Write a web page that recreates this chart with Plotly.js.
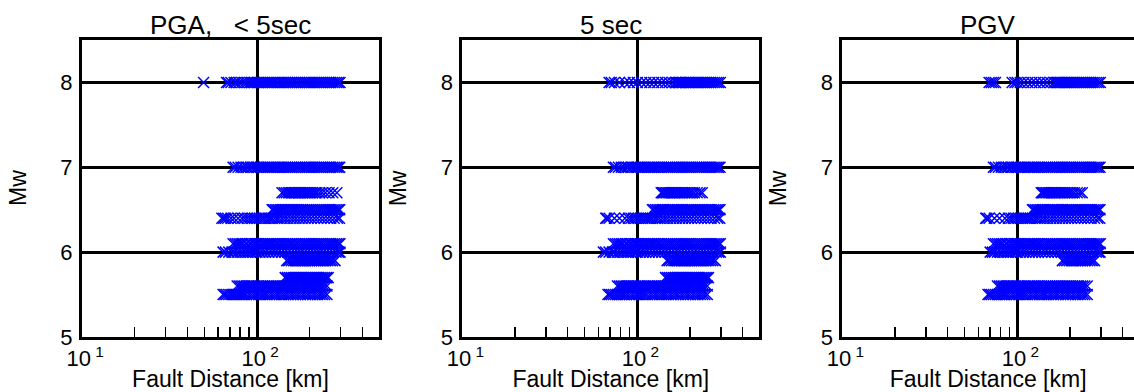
<!DOCTYPE html>
<html><head><meta charset="utf-8">
<script src="https://cdn.plot.ly/plotly-3.0.1.min.js"></script>
<style>html,body{margin:0;padding:0;overflow:hidden;background:#fff}</style>
</head><body><div id="chart"></div>
<script>
// ---- data: fault distance [km] per Mw row ----
const pgaM80 = [49.5, 67, 68.5, 71, 74, 76, 79, 82, 85, 88, 91, 93, 95, 97, 100, 102, 105, 108, 111, 114, 117, 120, 123, 126, 130, 133, 137, 141, 145, 149, 153, 157, 161, 166, 170, 175, 180, 185, 190, 195, 200, 206, 212, 218, 224, 230, 236, 243, 250, 257, 264, 271, 278, 285, 292, 298];
const s5M80 = [69, 71, 74, 79, 85, 90, 95, 100, 106, 112, 118, 124, 131, 138, 145, 152, 159, 165, 168, 171, 174, 177, 180, 184, 188, 192, 196, 200, 205, 210, 215, 220, 225, 231, 237, 243, 249, 256, 263, 270, 277, 284, 291, 298];
const pgvM80 = [69, 71, 73, 75, 93.5, 97, 100, 104, 109, 115, 121, 127, 134, 141, 148, 155, 162, 166, 169, 172, 175, 178, 182, 186, 190, 194, 198, 203, 208, 213, 218, 223, 229, 235, 241, 247, 254, 261, 268, 275, 283, 291, 298];
const row70 = [73, 75, 78, 81, 84, 87, 89, 92, 94, 97, 100, 102, 105, 108, 111, 114, 117, 120, 123, 126, 130, 133, 137, 141, 145, 149, 153, 157, 161, 166, 170, 175, 180, 185, 190, 195, 200, 206, 212, 218, 224, 230, 236, 243, 250, 257, 264, 271, 278, 285, 291, 297];
const pgaM67 = [139, 143, 147, 151, 154, 157, 160, 163, 166, 169, 172, 175, 178, 182, 186, 190, 194, 198, 203, 208, 214, 220, 228, 236, 246, 258, 271, 286];
const row67 = [137, 139, 141, 144, 147, 150, 153, 156, 160, 163, 166, 170, 174, 178, 182, 186, 190, 195, 200, 206, 212, 220, 228, 235];
const row65 = [122, 124, 127, 130, 133, 136, 139, 142, 145, 149, 153, 157, 161, 165, 169, 173, 178, 182, 187, 192, 197, 202, 207, 213, 219, 225, 231, 237, 244, 251, 258, 265, 272, 279, 286, 292, 297];
const pgaM64 = [63, 64.5, 66, 68, 71, 74, 78, 82, 85, 88, 91, 94, 97, 100, 103, 106, 109, 112, 116, 119, 122, 126, 130, 134, 139, 144, 149, 155, 161, 167, 174, 181, 188, 196, 204, 213, 222, 232, 242, 253, 264, 276, 288, 296];
const row64 = [66, 67, 69, 74, 79, 85, 89, 92, 95, 98, 101, 104, 107, 110, 113, 116, 119, 122, 126, 130, 134, 139, 144, 149, 155, 161, 167, 174, 181, 188, 196, 204, 213, 222, 232, 242, 253, 264, 276, 288, 296];
const row61 = [73, 75, 77, 79, 81, 83, 86, 88, 91, 93, 96, 98, 100, 102, 105, 108, 111, 114, 117, 120, 123, 126, 130, 133, 137, 141, 145, 149, 153, 157, 161, 166, 170, 175, 180, 185, 190, 195, 200, 206, 212, 218, 224, 230, 236, 243, 250, 257, 264, 271, 278, 285, 292, 298];
const row60 = [64, 66, 69, 72, 74, 77, 80, 83, 86, 89, 92, 95, 98, 100, 104, 108, 112, 117, 122, 127, 132, 138, 144, 150, 157, 164, 171, 178, 186, 194, 202, 211, 220, 229, 239, 249, 260, 271, 283, 292, 298];
const pgvM60 = [70, 72, 74, 77, 80, 83, 86, 89, 92, 95, 98, 100, 104, 108, 112, 117, 122, 127, 132, 138, 144, 150, 157, 164, 171, 178, 186, 194, 202, 211, 220, 229, 239, 249, 260, 271, 283, 292, 297];
const row59 = [148, 152, 157, 162, 166, 170, 174, 178, 182, 186, 190, 195, 200, 205, 210, 215, 221, 227, 233, 240, 247, 254, 262, 270, 279];
const pgvM59 = [181, 186, 192, 198, 204, 210, 216, 222, 229, 236, 244, 252, 260, 268, 276];
const row57 = [145, 149, 153, 157, 161, 165, 169, 173, 177, 181, 185, 190, 195, 200, 205, 210, 215, 220, 226, 232, 238, 244, 250, 255];
const row56 = [77, 79, 81, 83, 85, 87, 89, 91, 93, 95, 97, 100, 102, 105, 108, 111, 114, 117, 120, 123, 126, 130, 133, 137, 141, 145, 149, 153, 157, 161, 166, 170, 175, 180, 185, 190, 195, 200, 206, 212, 218, 224, 230, 236, 243, 251];
const pgaM55 = [64, 65.5, 67, 69, 71, 73, 75, 77, 79, 81, 83, 85, 87, 90, 93, 96, 99, 102, 105, 108, 111, 114, 118, 122, 126, 130, 134, 138, 142, 146, 151, 156, 161, 166, 171, 177, 183, 189, 195, 201, 208, 215, 222, 229, 236, 243, 251];
const row55 = [68, 69.5, 71, 73, 75, 77, 79, 81, 83, 85, 87, 90, 93, 96, 99, 102, 105, 108, 111, 114, 118, 122, 126, 130, 134, 138, 142, 146, 151, 156, 161, 166, 171, 177, 183, 189, 195, 201, 208, 215, 222, 229, 236, 243, 251];

const mwLevels = [8.0, 7.0, 6.7, 6.5, 6.4, 6.1, 6.0, 5.9, 5.7, 5.6, 5.5];
const pgaRows = [pgaM80, row70, pgaM67, row65, pgaM64, row61, row60, row59, row57, row56, pgaM55];
const s5Rows  = [s5M80, row70, row67, row65, row64, row61, row60, row59, row57, row56, row55];
const pgvRows = [pgvM80, row70, row67, row65, row64, row61, pgvM60, pgvM59, [], row56, row55];
const panelTitles = ['PGA,&nbsp;&nbsp;&nbsp;&lt; 5sec', '5 sec', 'PGV'];
const xTitle = 'Fault Distance [km]';
const yTitle = 'Mw';
const xTickVals = [10, 100];
const xTickText = ['&nbsp;10<sup> 1</sup>', '&nbsp;10<sup> 2</sup>'];
const xMinorVals = [20, 30, 40, 50, 60, 70, 80, 90, 200, 300, 400];
const yTickVals = [5, 6, 7, 8];
const yMinorVals = [5.5, 6.5, 7.5];

// ---- build ----
const FONT = 'Liberation Sans, Arial, Helvetica, sans-serif';
const BLUE = '#0000ff';
function panelTrace(rows, idx) {
  const xs = [], ys = [];
  rows.forEach((d, i) => d.forEach(v => { xs.push(v); ys.push(mwLevels[i]); }));
  const s = idx === 1 ? '' : String(idx);
  return {type: 'scatter', mode: 'markers', x: xs, y: ys, xaxis: 'x' + s, yaxis: 'y' + s,
    marker: {symbol: 'x-thin-open', size: 11, color: BLUE, line: {width: 1.5, color: BLUE}},
    hoverinfo: 'skip'};
}
const data = [panelTrace(pgaRows, 1), panelTrace(s5Rows, 2), panelTrace(pgvRows, 3)];

const W = 1134, H = 392, L = 82, R = 0;
const pw = W - L - R;
const DEC = 175; // px per decade
const doms = [[0, 297 / pw], [380.3 / pw, 677.3 / pw], [760.3 / pw, 1]];
function xax(dom, anchor) {
  const widthPx = (dom[1] - dom[0]) * pw;
  return {domain: dom, anchor: anchor, type: 'log', range: [1, 1 + widthPx / DEC],
    tickmode: 'array', tickvals: xTickVals, ticktext: xTickText, ticks: 'inside', ticklen: 10, tickwidth: 1.5, tickcolor: 'black',
    showgrid: true, gridcolor: 'black', gridwidth: 3, zeroline: false,
    showline: true, mirror: true, linecolor: 'black', linewidth: 3,
    tickfont: {size: 22, family: FONT, color: 'black'}, ticklabelstandoff: 0,
    minor: {tickmode: 'array', tickvals: xMinorVals, ticks: 'inside', ticklen: 10, tickwidth: 1.5, tickcolor: 'black', showgrid: false},
    title: {text: xTitle, font: {size: 23, family: FONT, color: 'black'}, standoff: 2}};
}
function yax(anchor, mirror) {
  return {domain: [0, 1], anchor: anchor, range: [5, 8.5],
    tickmode: 'array', tickvals: yTickVals, ticks: 'inside', ticklen: 10, tickwidth: 1.5, tickcolor: 'black',
    showgrid: true, gridcolor: 'black', gridwidth: 3, zeroline: false,
    showline: true, mirror: mirror, linecolor: 'black', linewidth: 3,
    tickfont: {size: 22, family: FONT, color: 'black'}, ticklabelstandoff: 2};
}
const ann = [];
panelTitles.forEach((t, i) => {
  const xr = (i === 0 ? 'x' : 'x' + (i + 1)) + ' domain';
  ann.push({text: t, xref: xr, x: 0.5, yref: 'paper', y: 1,
    xanchor: 'center', yanchor: 'bottom', yshift: -2, showarrow: false,
    font: {size: 26, family: FONT, color: 'black'}});
  ann.push({text: yTitle, xref: xr, x: 0, xshift: -64.5, xanchor: 'center',
    yref: 'paper', y: 0.5, yanchor: 'middle', textangle: -90, showarrow: false,
    font: {size: 23, family: FONT, color: 'black'}});
});
const layout = {
  width: W, height: H, margin: {l: L, r: R, t: 40, b: 55, pad: 0},
  paper_bgcolor: 'white', plot_bgcolor: 'white', showlegend: false,
  font: {family: FONT, color: 'black', size: 22},
  xaxis: xax(doms[0], 'y'), yaxis: yax('x', true),
  xaxis2: xax(doms[1], 'y2'), yaxis2: yax('x2', true),
  xaxis3: xax(doms[2], 'y3'), yaxis3: yax('x3', false),
  annotations: ann
};
Plotly.newPlot('chart', data, layout, {staticPlot: true, displayModeBar: false});
</script></body></html>
